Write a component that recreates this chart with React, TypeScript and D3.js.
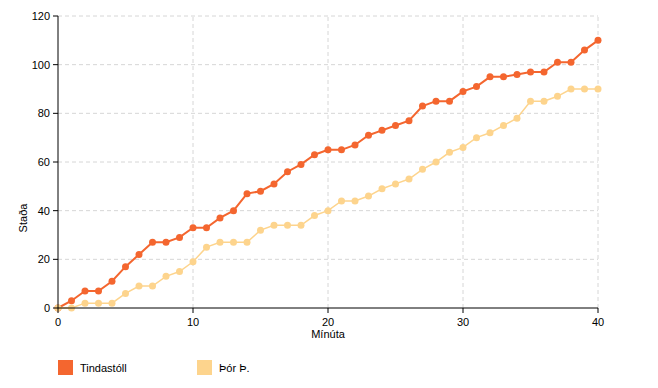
import React from "react";
import * as d3 from "d3";

const minutes = d3.range(0, 41);
const tindastoll = [0, 3, 7, 7, 11, 17, 22, 27, 27, 29, 33, 33, 37, 40, 47, 48, 51, 56, 59, 63, 65, 65, 67, 71, 73, 75, 77, 83, 85, 85, 89, 91, 95, 95, 96, 97, 97, 101, 101, 106, 110];
const thor = [0, 0, 2, 2, 2, 6, 9, 9, 13, 15, 19, 25, 27, 27, 27, 32, 34, 34, 34, 38, 40, 44, 44, 46, 49, 51, 53, 57, 60, 64, 66, 70, 72, 75, 78, 85, 85, 87, 90, 90, 90];
const xTicks = [0, 10, 20, 30, 40];
const yTicks = [0, 20, 40, 60, 80, 100, 120];
const seriesNames = ["Tindastóll", "Þór Þ."];
const seriesColors = ["#f4662f", "#fdd48d"];

export default function App() {
  const W = 658, H = 388;
  const x = d3.scaleLinear().domain([0, 40]).range([58, 598]);
  const y = d3.scaleLinear().domain([0, 120]).range([308, 16]);
  const series = [tindastoll, thor];
  const line = (vals: number[]) =>
    d3.line<number>().x((_, i) => x(minutes[i])).y((v) => y(v))(vals) || "";
  const font = "Liberation Sans, Arial, sans-serif";
  return (
    <svg width={W} height={H} style={{ position: "absolute", left: 0, top: 0 }} fontFamily={font}>
      <rect width={W} height={H} fill="#fff" />
      {yTicks.filter((t) => t > 0).map((t) => (
        <line key={"gy" + t} x1={x(0)} x2={x(40)} y1={y(t)} y2={y(t)} stroke="#d6d6d6" strokeDasharray="4,3" />
      ))}
      {xTicks.filter((t) => t > 0).map((t) => (
        <line key={"gx" + t} x1={x(t)} x2={x(t)} y1={y(0)} y2={y(120)} stroke="#d6d6d6" strokeDasharray="4,3" />
      ))}
      {series.map((s, si) => (
        <g key={si}>
          <path d={line(s)} fill="none" stroke={seriesColors[si]} strokeWidth={si === 0 ? 2 : 1.5} />
          {s.map((v, i) => (
            <circle key={i} cx={x(minutes[i])} cy={y(v)} r={3.5} fill={seriesColors[si]} />
          ))}
        </g>
      ))}
      <line x1={x(0)} x2={x(0)} y1={y(0)} y2={y(120)} stroke="#000" strokeWidth={1} />
      <line x1={x(0)} x2={x(40)} y1={y(0)} y2={y(0)} stroke="#000" strokeWidth={1} />
      {yTicks.map((t) => (
        <g key={"ty" + t}>
          <line x1={x(0) - 5} x2={x(0)} y1={y(t)} y2={y(t)} stroke="#000" />
          <text x={x(0) - 8} y={y(t)} dy="0.35em" textAnchor="end" fontSize={11} fill="#000">{t}</text>
        </g>
      ))}
      {xTicks.map((t) => (
        <g key={"tx" + t}>
          <line x1={x(t)} x2={x(t)} y1={y(0)} y2={y(0) + 5} stroke="#000" />
          <text x={x(t)} y={y(0) + 18} textAnchor="middle" fontSize={11} fill="#000">{t}</text>
        </g>
      ))}
      <text x={(x(0) + x(40)) / 2} y={338} textAnchor="middle" fontSize={11} fill="#000">Mínúta</text>
      <text transform={`translate(27,218) rotate(-90)`} textAnchor="middle" fontSize={11} fill="#000">Staða</text>
      {seriesNames.map((n, i) => (
        <g key={n} transform={`translate(${58 + i * 139},360)`}>
          <rect width={15} height={15} fill={seriesColors[i]} />
          <text x={22} y={11.5} fontSize={11} fill="#000">{n}</text>
        </g>
      ))}
    </svg>
  );
}
